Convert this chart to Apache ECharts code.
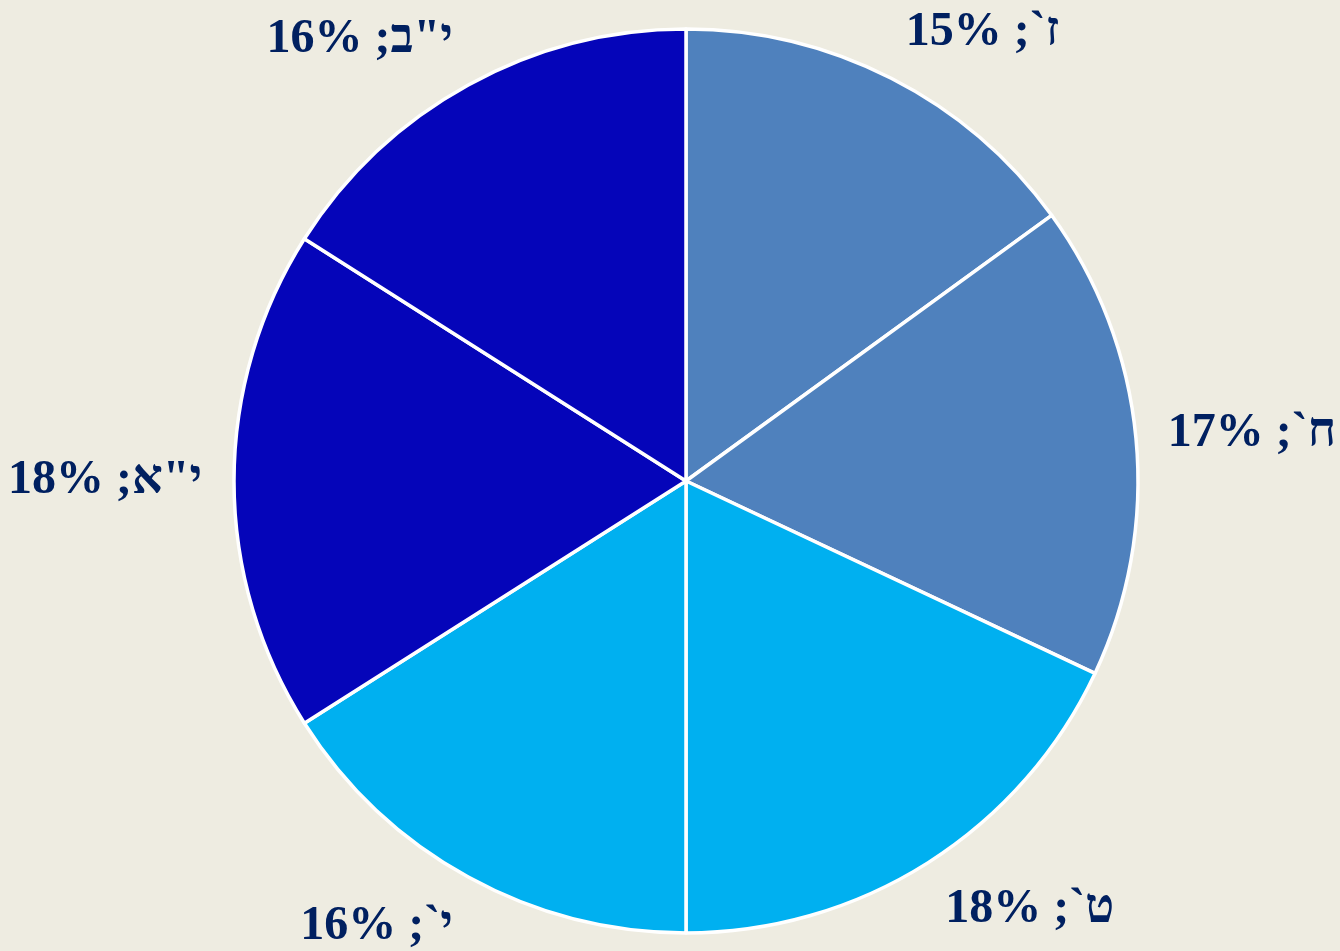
<!DOCTYPE html>
<html>
<head>
<meta charset="utf-8">
<script src="https://cdn.jsdelivr.net/npm/echarts@6/dist/echarts.min.js"></script>
<style>
  html, body { margin: 0; padding: 0; background: #eeece1; }
  #chart { width: 1340px; height: 951px; }
</style>
</head>
<body>
<div id="chart"></div>
<script>
// grades and their share (%)
const grades = ["ז`", "ח`", "ט`", "י`", 'י"א', 'י"ב'];
const shares = [15, 17, 18, 16, 18, 16];
const sliceColors = ["#4f81bd", "#4f81bd", "#00b0f0", "#00b0f0", "#0505b9", "#0505b9"];

const cx = 686, cy = 481, radius = 452;
const labelRadius = 484;

const total = shares.reduce((a, b) => a + b, 0);
const midAngles = [];
let acc = 0;
shares.forEach(v => {
  midAngles.push(((acc + v / 2) / total) * Math.PI * 2);
  acc += v;
});

const chart = echarts.init(document.getElementById("chart"));

chart.setOption({
  backgroundColor: "#eeece1",
  animation: false,
  series: [
    {
      type: "pie",
      center: [cx, cy],
      radius: radius,
      startAngle: 90,
      clockwise: true,
      data: grades.map((g, i) => ({
        name: g,
        value: shares[i],
        itemStyle: { color: sliceColors[i] }
      })),
      itemStyle: { borderColor: "#ffffff", borderWidth: 3.5 },
      label: {
        show: true,
        position: "outside",
        formatter: "{b}; {c}%",
        fontFamily: "'Liberation Serif', 'Times New Roman', serif",
        fontWeight: "bold",
        fontSize: 48,
        color: "#002060"
      },
      labelLine: { show: false, length: 20, length2: 0 },
      labelLayout: function (params) {
        const a = midAngles[params.dataIndex];
        const s = Math.sin(a), c = Math.cos(a);
        const h = params.labelRect.height;
        return {
          x: cx + labelRadius * s,
          y: cy - labelRadius * c - c * h * (c < 0 ? 0.5 : 0.4),
          align: s >= 0 ? "left" : "right",
          verticalAlign: "middle"
        };
      },
      emphasis: { disabled: true }
    }
  ]
});
</script>
</body>
</html>
